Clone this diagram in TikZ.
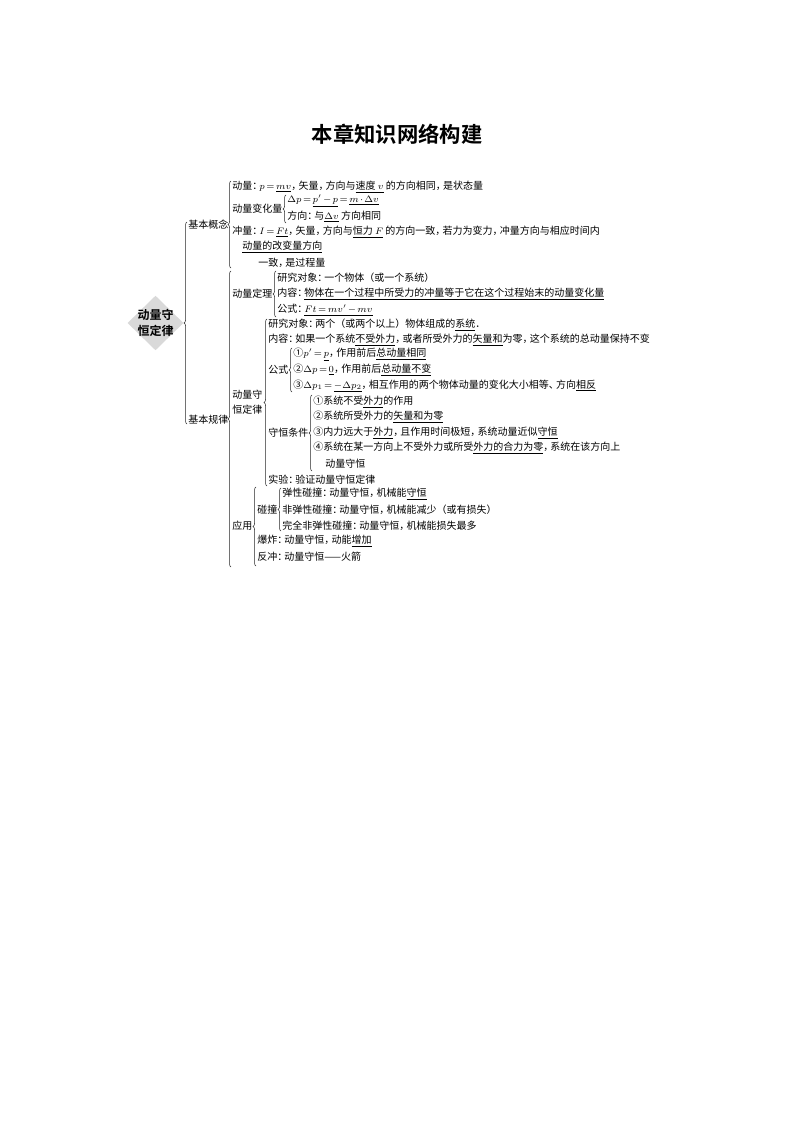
\documentclass[tikz,border=0pt]{standalone}
\usepackage{fontspec}
\setmainfont{Noto Sans CJK SC}[BoldFont={Noto Sans CJK SC Bold}]
\usetikzlibrary{shapes.geometric,decorations.pathreplacing}
\newcommand\CM{\makebox[0.72em][l]{，}}
\newcommand\CO{\makebox[0.72em][l]{：}}
\newcommand\DN{\makebox[0.72em][l]{、}}
\thickmuskip=2.5mu
\medmuskip=2mu
\tikzset{
  tx/.style={anchor=west, inner sep=0pt, font=\fontsize{7.5}{15}\selectfont},
  lbl2/.style={anchor=west, inner sep=0pt, align=left, font=\fontsize{7.5}{11.25}\selectfont},
  br/.style={decorate, decoration={brace, amplitude=2.2pt}, line width=0.4pt, draw=black!85},
}
\begin{document}
\begin{tikzpicture}[x=0.75pt, y=-0.75pt]
\useasboundingbox (0,0) rectangle (794,1123);
% title
\node[inner sep=0pt, font=\fontsize{16}{18}\selectfont\bfseries] (title) at (397,134) {本章知识网络构建};
% root diamond
\node[diamond, fill=black!15, minimum width=42pt, minimum height=41pt, inner sep=0pt] (dia) at (155.5,323) {};
\node[inner sep=0pt, align=center, font=\fontsize{9}{12.5}\selectfont\bfseries] (root) at (dia.center) {动量守\\恒定律};
% level 1
\coordinate (b1t) at (187,222); \coordinate (b1b) at (187,424);
\draw[br] (b1b) -- (b1t);
\node[tx] (gn) at (188,225) {基本概念};
\node[tx] (gl) at (188,420) {基本规律};
% ===== 基本概念 =====
\coordinate (b2t) at (231,181); \coordinate (b2b) at (231,268);
\draw[br] (b2b) -- (b2t);
\node[tx] (dl) at (232,187) {动量\CO$p=\underline{mv}$\CM 矢量\CM 方向与\underline{速度 $v$} 的方向相同\CM 是状态量};
\node[tx] (dlb) at (232,209) {动量变化量};
\coordinate (b3t) at (286,195); \coordinate (b3b) at (286,223);
\draw[br] (b3b) -- (b3t);
\node[tx] (dlb1) at (287,201) {$\Delta p=\underline{p'-p}=\underline{m\cdot\Delta v}$};
\node[tx] (dlb2) at (287,217) {方向\CO 与\underline{$\Delta v$} 方向相同};
\node[tx] (cl) at (232,232) {冲量\CO$I=\underline{Ft}$\CM 矢量\CM 方向与\underline{恒力 $F$} 的方向一致\CM 若力为变力\CM 冲量方向与相应时间内};
\node[tx] (cl2) at (242,247) {\underline{动量的改变量方向}};
\node[tx] (cl3) at (258,263) {一致\CM 是过程量};
% ===== 基本规律 =====
\coordinate (b4t) at (231,271); \coordinate (b4b) at (231,567);
\draw[br] (b4b) -- (b4t);
% 动量定理
\node[tx] (dldl) at (232,294) {动量定理};
\coordinate (b5t) at (276,271); \coordinate (b5b) at (276,317);
\draw[br] (b5b) -- (b5t);
\node[tx] (dl1) at (277,278) {研究对象\CO 一个物体（或一个系统）};
\node[tx] (dl2) at (277,294) {内容\CO\underline{物体在一个过程中所受力的冲量等于它在这个过程始末的动量变化量}};
\node[tx] (dl3) at (277,310) {公式\CO\underline{$Ft=mv'-mv$}};
% 动量守恒定律
\node[lbl2] (sh) at (232,402) {动量守\\恒定律};
\coordinate (b6t) at (267,319); \coordinate (b6b) at (267,486);
\draw[br] (b6b) -- (b6t);
\node[tx] (sh1) at (268,325) {研究对象\CO 两个（或两个以上）物体组成的\underline{系统}．};
\node[tx] (sh2) at (268,340) {内容\CO 如果一个系统\underline{不受外力}\CM 或者所受外力的\underline{矢量和}为零\CM 这个系统的总动量保持不变};
\node[tx] (gs) at (268,370) {公式};
\coordinate (b7t) at (292,348); \coordinate (b7b) at (292,392);
\draw[br] (b7b) -- (b7t);
\node[tx] (gs1) at (293,355) {①$p'=\underline{p}$\CM 作用前后\underline{总动量相同}};
\node[tx] (gs2) at (293,370) {②$\Delta p=\underline{0}$\CM 作用前后\underline{总动量不变}};
\node[tx] (gs3) at (293,386) {③$\Delta p_1=\underline{-\Delta p_2}$\CM 相互作用的两个物体动量的变化大小相等\DN 方向\underline{相反}};
\node[tx] (tj) at (268,433) {守恒条件};
\coordinate (b8t) at (312,395); \coordinate (b8b) at (312,471);
\draw[br] (b8b) -- (b8t);
\node[tx] (tj1) at (313,402) {①系统不受\underline{外力}的作用};
\node[tx] (tj2) at (313,417) {②系统所受外力的\underline{矢量和为零}};
\node[tx] (tj3) at (313,433) {③内力远大于\underline{外力}\CM 且作用时间极短\CM 系统动量近似\underline{守恒}};
\node[tx] (tj4) at (313,448) {④系统在某一方向上不受外力或所受\underline{外力的合力为零}\CM 系统在该方向上};
\node[tx] (tj5) at (325,464) {动量守恒};
\node[tx] (sy) at (268,480) {实验\CO 验证动量守恒定律};
% 应用
\node[tx] (yy) at (232,526) {应用};
\coordinate (b9t) at (256,487); \coordinate (b9b) at (256,566);
\draw[br] (b9b) -- (b9t);
\node[tx] (pz) at (257,510) {碰撞};
\coordinate (b10t) at (281,488); \coordinate (b10b) at (281,531);
\draw[br] (b10b) -- (b10t);
\node[tx] (pz1) at (282,494) {弹性碰撞\CO 动量守恒\CM 机械能\underline{守恒}};
\node[tx] (pz2) at (282,510) {非弹性碰撞\CO 动量守恒\CM 机械能减少（或有损失）};
\node[tx] (pz3) at (282,526) {完全非弹性碰撞\CO 动量守恒\CM 机械能损失最多};
\node[tx] (bz) at (257,541) {爆炸\CO 动量守恒\CM 动能\underline{增加}};
\node[tx] (fc) at (257,557) {反冲\CO 动量守恒——火箭};
\end{tikzpicture}
\end{document}
